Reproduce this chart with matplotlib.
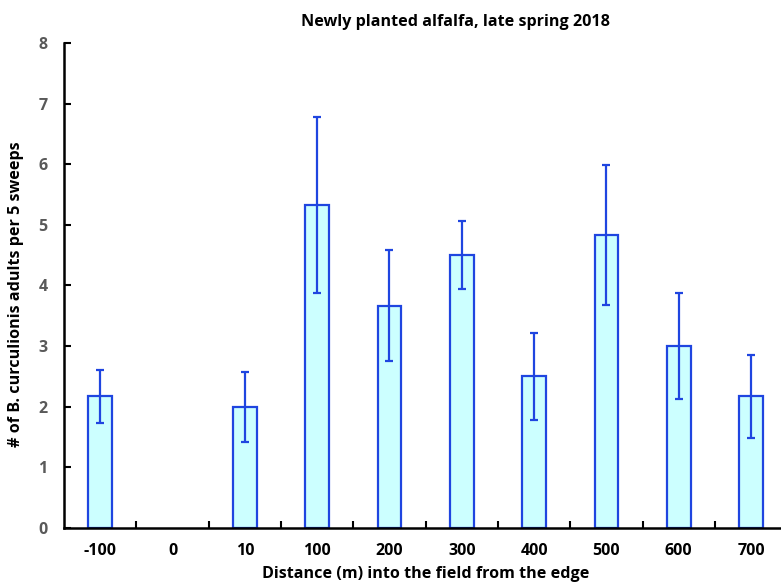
import numpy as np
import matplotlib
matplotlib.use("Agg")
import matplotlib.pyplot as plt

plt.rcParams['font.family'] = ['Open Sans', 'DejaVu Sans']
plt.rcParams['font.weight'] = 'bold'
plt.rcParams['axes.labelweight'] = 'bold'

distances = ['-100', '0', '10', '100', '200', '300', '400', '500', '600', '700']
means = [2.17, np.nan, 2.0, 5.33, 3.67, 4.5, 2.5, 4.83, 3.0, 2.17]
errors = [0.44, np.nan, 0.58, 1.45, 0.92, 0.56, 0.72, 1.15, 0.87, 0.68]

fig = plt.figure(figsize=(7.81, 5.83), dpi=100)
ax = fig.add_axes([0.082, 0.0943, 0.926, 0.832])

x = np.arange(len(distances))
ax.bar(x, means, width=0.33, color='#CCFFFF', edgecolor='#1F45E0', linewidth=1.6,
       yerr=errors, error_kw=dict(ecolor='#1F45E0', elinewidth=1.6, capsize=3, capthick=1.6))

ax.set_xlim(-0.5, len(distances) - 0.5)
ax.set_ylim(0, 8)
ax.set_yticks(range(0, 9))
ax.set_xticks(x)
ax.set_xticklabels(distances)
ax.set_xticks(x[:-1] + 0.5, minor=True)
ax.tick_params(axis='x', which='major', length=0, pad=11, labelsize=11.5, labelcolor='black')
ax.tick_params(axis='x', which='minor', direction='in', length=5, width=1.5)
ax.tick_params(axis='y', direction='in', length=5, width=1.5, pad=12, labelsize=11.5, labelcolor='#595959')

for s in ['top', 'right']:
    ax.spines[s].set_visible(False)
for s in ['left', 'bottom']:
    ax.spines[s].set_linewidth(1.8)

ax.set_xlabel('Distance (m) into the field from the edge', fontsize=11.6, labelpad=5)
ax.set_ylabel('# of B. curculionis adults per 5 sweeps', fontsize=11.6)
ax.yaxis.set_label_coords(-0.056, 0.482)
fig.text(455 / 781, 1 - 22 / 583, 'Newly planted alfalfa, late spring 2018',
         ha='center', va='center', fontsize=11.6, fontweight='bold')

fig.savefig('out.png', dpi=100)
